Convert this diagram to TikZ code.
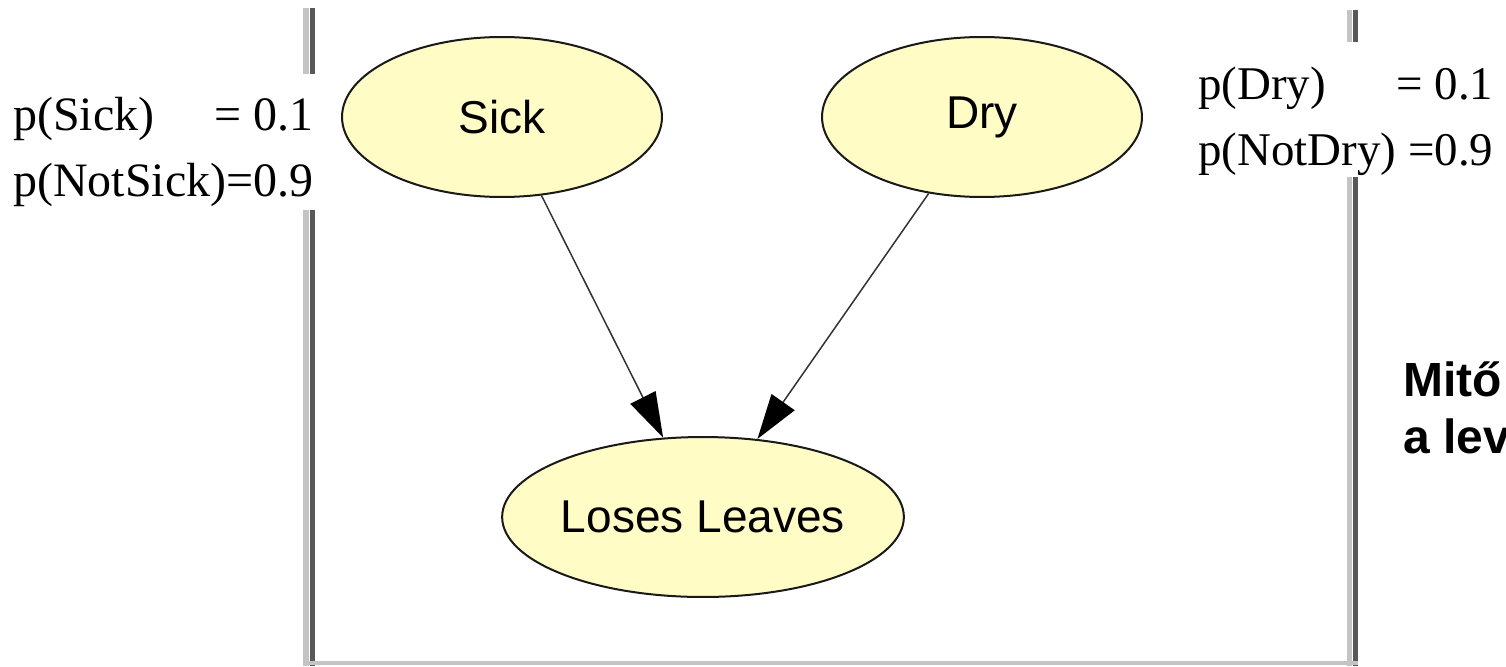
\documentclass[tikz,border=0pt]{standalone}
\usepackage{fontspec}
\setmainfont{Liberation Serif}
\setsansfont{Liberation Sans}
\usepackage{tikz}
\usetikzlibrary{arrows.meta,positioning,shapes.geometric}
\definecolor{node-yellow}{HTML}{FFFCC6}
\definecolor{frame-light}{HTML}{C4C4C4}
\definecolor{frame-dark}{HTML}{585858}

\begin{document}
\begin{tikzpicture}[x=0.02cm,y=-0.02cm,
  bnnode/.style={ellipse,draw=black!90,line width=0.04cm,fill=node-yellow,
    minimum width=6.4cm,minimum height=3.2cm,inner sep=0pt,
    font=\sffamily\fontsize{26.2}{30}\selectfont},
  cpt/.style={anchor=base west,inner sep=0pt,
    font=\fontsize{26.7}{37.6}\selectfont},
  question/.style={anchor=base west,inner sep=0pt,
    font=\sffamily\bfseries\fontsize{27.3}{32}\selectfont},
  depend/.style={draw=black!80,line width=0.03cm,
    -{Triangle[length=0.9cm,width=0.56cm,color=black]}}]
  \useasboundingbox (0,0) rectangle (1506,666);
  % window frame of the network editor, broken by the tables
  \draw[frame-light,line width=0.12cm] (306,8) -- (306,74) (306,210) -- (306,666);
  \draw[frame-dark,line width=0.1cm] (312.5,8) -- (312.5,74) (312.5,210) -- (312.5,666);
  \draw[frame-light,line width=0.1cm] (1349.5,10) -- (1349.5,42) (1349.5,177) -- (1349.5,666);
  \draw[frame-dark,line width=0.1cm] (1355.5,10) -- (1355.5,42) (1355.5,177) -- (1355.5,666);
  \draw[frame-light,line width=0.08cm] (303,663) -- (1358,663);
  % probability tables
  \node[cpt,font=\fontsize{27.3}{37.6}\selectfont] (psick) at (13,130) {\begin{tabular}[t]{@{}l@{}}
    p(Sick)\hfill= 0.1\\ p(NotSick)=0.9\end{tabular}};
  \node[cpt] (pdry) at (1198,99) {\begin{tabular}[t]{@{}l@{}}
    p(Dry)\hfill= 0.1\\ p(NotDry) =0.9\end{tabular}};
  % network
  \node[bnnode] (sick) at (502,117) {Sick};
  \node[bnnode] (dry) at (982,117) {Dry};
  \node[bnnode] (loses) at (703,517) {Loses Leaves};
  \draw[depend] (sick) -- (loses);
  \draw[depend] (dry) -- (loses);
  % question, cut at the right edge
  \node[question] (why) at (1403,396) {Mitő};
  \node[question] (why2) at (1403,453) {a lev};
\end{tikzpicture}
\end{document}
